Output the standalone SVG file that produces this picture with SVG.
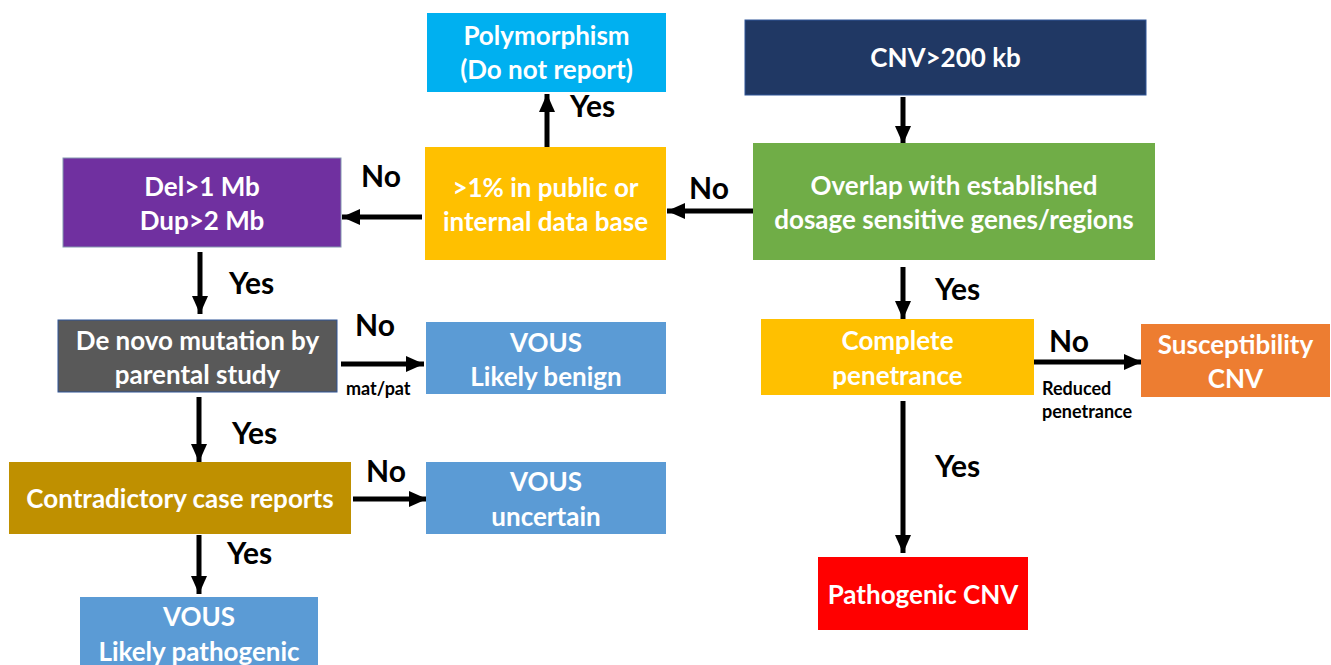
<svg xmlns="http://www.w3.org/2000/svg" width="1331" height="665" viewBox="0 0 1331 665">
<style>
.t{font-family:Lato,"Liberation Sans",sans-serif;font-weight:bold;font-size:26px;fill:#fff;text-anchor:middle}
.l{font-family:Lato,"Liberation Sans",sans-serif;font-weight:bold;font-size:30px;fill:#000}
.s{font-family:Lato,"Liberation Sans",sans-serif;font-weight:bold;font-size:18px;fill:#000}
.c{stroke:#000;stroke-width:5;fill:none;marker-end:url(#ah)}
</style>
<defs>
<marker id="ah" markerUnits="userSpaceOnUse" markerWidth="20" markerHeight="20" viewBox="0 0 20 20" refX="18" refY="10" orient="auto">
<path d="M0,2 L18,10 L0,18 Z" fill="#000"/>
</marker>
</defs>
<rect width="1331" height="665" fill="#fff"/>
<g id="connectors">
<line class="c" x1="903" y1="97" x2="903" y2="144"/>
<line class="c" x1="753" y1="211" x2="667" y2="211"/>
<line class="c" x1="547" y1="151" x2="547" y2="94"/>
<line class="c" x1="422" y1="217" x2="342" y2="217"/>
<line class="c" x1="200" y1="252" x2="200" y2="314"/>
<line class="c" x1="341" y1="364" x2="424" y2="364"/>
<line class="c" x1="199" y1="397" x2="199" y2="462"/>
<line class="c" x1="353" y1="499" x2="427" y2="499"/>
<line class="c" x1="199" y1="535" x2="199" y2="594"/>
<line class="c" x1="903" y1="267" x2="903" y2="319"/>
<line class="c" x1="1034" y1="362" x2="1142" y2="362"/>
<line class="c" x1="903" y1="401" x2="903" y2="553"/>
</g>
<g id="labels">
<text class="l" x="570" y="117">Yes</text>
<text class="l" x="361" y="187">No</text>
<text class="l" x="689" y="199">No</text>
<text class="l" x="229" y="294">Yes</text>
<text class="l" x="355" y="336">No</text>
<text class="s" x="346" y="395">mat/pat</text>
<text class="l" x="232" y="444">Yes</text>
<text class="l" x="366" y="482">No</text>
<text class="l" x="227" y="564">Yes</text>
<text class="l" x="935" y="300">Yes</text>
<text class="l" x="1049" y="352">No</text>
<text class="s" x="1042" y="395">Reduced</text>
<text class="s" x="1042" y="418">penetrance</text>
<text class="l" x="935" y="477">Yes</text>
</g>
<g id="cnv"><rect x="745" y="20" width="401" height="75" fill="#203864" stroke="#2F5597" stroke-width="1"/><text class="t" x="945.5" y="67">CNV&gt;200 kb</text></g>
<g id="overlap"><rect x="753" y="143" width="402" height="117" fill="#70AD47"/><text class="t" x="954" y="195">Overlap with established</text><text class="t" x="954" y="229">dosage sensitive genes/regions</text></g>
<g id="polymorphism"><rect x="427" y="13" width="239" height="79" fill="#00B0F0"/><text class="t" x="546.5" y="45">Polymorphism</text><text class="t" x="546.5" y="79">(Do not report)</text></g>
<g id="freq"><rect x="425" y="147" width="241" height="113" fill="#FFC000"/><text class="t" x="545.5" y="197">&gt;1% in public or</text><text class="t" x="545.5" y="231">internal data base</text></g>
<g id="size"><rect x="63" y="158" width="278" height="89" fill="#7030A0" stroke="#8497B0" stroke-width="1"/><text class="t" x="202" y="196">Del&gt;1 Mb</text><text class="t" x="202" y="230">Dup&gt;2 Mb</text></g>
<g id="denovo"><rect x="58" y="320" width="279" height="72" fill="#595959" stroke="#2F5597" stroke-width="1"/><text class="t" x="197.5" y="350">De novo mutation by</text><text class="t" x="197.5" y="384">parental study</text></g>
<g id="benign"><rect x="426" y="322" width="240" height="72" fill="#5B9BD5"/><text class="t" x="546" y="352">VOUS</text><text class="t" x="546" y="386">Likely benign</text></g>
<g id="contradictory"><rect x="9" y="462" width="342" height="72" fill="#BF9000"/><text class="t" x="180" y="508">Contradictory case reports</text></g>
<g id="uncertain"><rect x="426" y="462" width="240" height="72" fill="#5B9BD5"/><text class="t" x="546" y="491">VOUS</text><text class="t" x="546" y="526">uncertain</text></g>
<g id="likelypath"><rect x="80" y="597" width="238" height="72" fill="#5B9BD5"/><text class="t" x="199" y="626">VOUS</text><text class="t" x="199" y="661">Likely pathogenic</text></g>
<g id="penetrance"><rect x="761" y="319" width="273" height="76" fill="#FFC000"/><text class="t" x="897.5" y="350">Complete</text><text class="t" x="897.5" y="385">penetrance</text></g>
<g id="susceptibility"><rect x="1141" y="324" width="189" height="73" fill="#ED7D31"/><text class="t" x="1235.5" y="354">Susceptibility</text><text class="t" x="1235.5" y="388">CNV</text></g>
<g id="pathogenic"><rect x="818" y="557" width="210" height="73" fill="#FF0000"/><text class="t" x="923" y="604">Pathogenic CNV</text></g>
</svg>
